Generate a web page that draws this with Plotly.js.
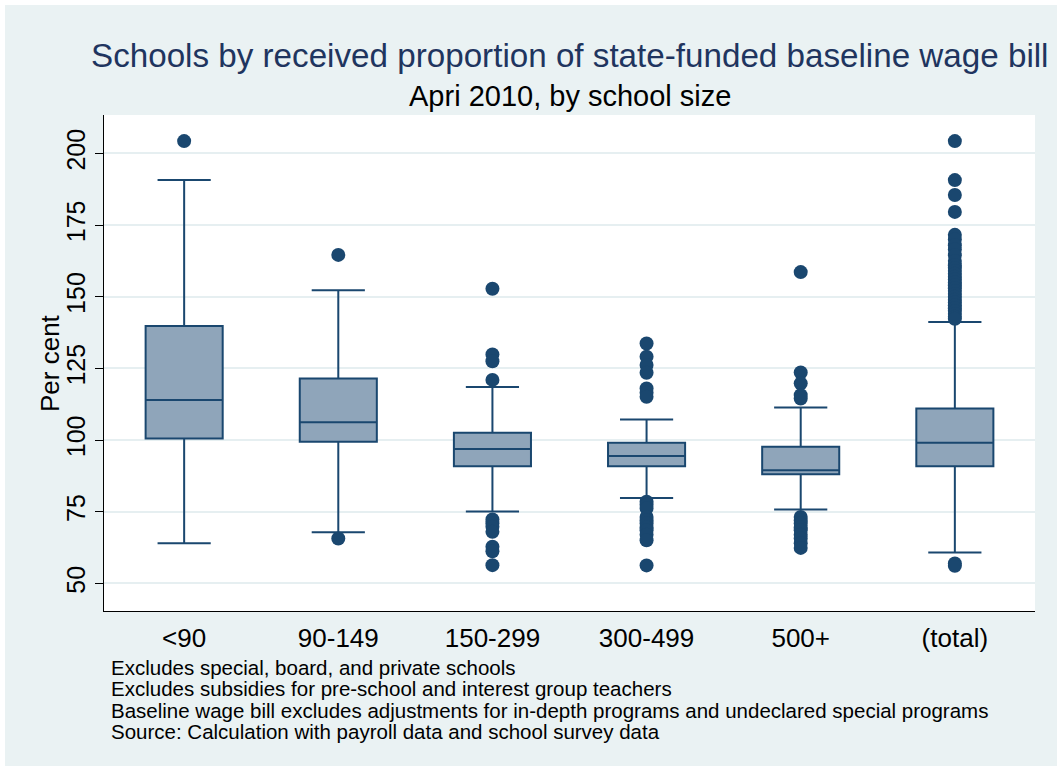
<!DOCTYPE html>
<html>
<head>
<meta charset="utf-8">
<script src="https://cdn.plot.ly/plotly-3.0.1.min.js"></script>
<style>
  html, body { margin: 0; padding: 0; background: #ffffff; }
  #chart { position: absolute; left: 5px; top: 5px; width: 1052px; height: 761px; }
</style>
</head>
<body>
<div id="chart"></div>
<script>
// ---- data ----
const categories = ["<90", "90-149", "150-299", "300-499", "500+", "(total)"];
const q1Values     = [100.6,  99.4, 90.9, 90.9, 88.1,  90.9];
const medianValues = [114.0, 106.2, 96.9, 94.5, 89.5,  99.1];
const q3Values     = [139.8, 121.5, 102.6, 99.1, 97.7, 111.0];
const lowerWhisker = [64.0,  67.9, 75.1, 79.8, 75.8,  60.8];
const upperWhisker = [190.7, 152.3, 118.5, 107.2, 111.4, 141.2];

const outliersLt90   = [204.3];
const outliers90_149 = [164.6, 65.7];
const outliers150_299 = [152.8, 129.9, 127.5, 121.0, 72.3, 71.0, 69.8, 68.0, 62.8, 61.2, 56.4];
const outliers300_499 = [133.7, 129.1, 126.2, 123.5, 118.0, 116.5, 115.1,
                         78.5, 77.5, 76.2, 73.2, 72.0, 70.9, 69.5, 68.6, 67.0, 65.1, 56.3];
const outliers500plus = [158.6, 123.6, 119.8, 115.7, 114.5,
                         73.2, 72.0, 70.9, 69.5, 68.6, 67.0, 65.7, 64.0, 62.4];
const outliersTotal   = [204.3, 190.7, 185.5, 179.6, 171.6, 170.0, 168.0, 166.5, 164.5, 162.5,
                         161.0, 160.0, 159.0, 158.0, 157.0, 156.0, 155.0, 154.0, 153.0, 152.0,
                         151.0, 150.0, 149.0, 148.0, 147.0, 146.0, 145.0, 144.0, 143.0, 142.3,
                         57.0, 56.2];
const outlierGroups = [outliersLt90, outliers90_149, outliers150_299, outliers300_499, outliers500plus, outliersTotal];

const yTickVals = [50, 75, 100, 125, 150, 175, 200];

const titleText = "Schools by received proportion of state-funded baseline wage bill";
const subtitleText = "Apri 2010, by school size";
const yTitleText = "Per cent";
const notes = [
  "Excludes special, board, and private schools",
  "Excludes subsidies for pre-school and interest group teachers",
  "Baseline wage bill excludes adjustments for in-depth programs and undeclared special programs",
  "Source: Calculation with payroll data and school survey data"
];

// ---- build ----
const navy = "#1a476f";
const FONT = "Liberation Sans, Arial, Helvetica, sans-serif";

const outX = [], outY = [];
outlierGroups.forEach((g, i) => g.forEach(v => { outX.push(categories[i]); outY.push(v); }));

const boxTrace = {
  type: "box",
  x: categories,
  q1: q1Values,
  median: medianValues,
  q3: q3Values,
  lowerfence: lowerWhisker,
  upperfence: upperWhisker,
  boxpoints: false,
  width: 0.5,
  whiskerwidth: 0.69,
  fillcolor: "#8fa5ba",
  line: { color: navy, width: 2 },
  hoverinfo: "skip",
  showlegend: false
};

const outTrace = {
  type: "scatter",
  mode: "markers",
  x: outX,
  y: outY,
  marker: { color: navy, size: 14 },
  hoverinfo: "skip",
  showlegend: false
};

const plotW = 931, plotH = 496; // plot area size in px
function px2paperX(px) { return (px - 99) / plotW; }
function px2paperY(py) { return (606 - py) / plotH; }

const annotations = [
  {
    text: titleText, xref: "paper", yref: "paper",
    x: 0.5, y: px2paperY(50), xanchor: "center", yanchor: "middle",
    showarrow: false, font: { family: FONT, size: 33.2, color: "#1f355f" }
  },
  {
    text: subtitleText, xref: "paper", yref: "paper",
    x: 0.5, y: px2paperY(91), xanchor: "center", yanchor: "middle",
    showarrow: false, font: { family: FONT, size: 29, color: "#000000" }
  },
  {
    text: yTitleText, xref: "paper", yref: "paper",
    x: px2paperX(45), y: 0.5, xanchor: "center", yanchor: "middle", textangle: -90,
    showarrow: false, font: { family: FONT, size: 26, color: "#000000" }
  }
];
notes.forEach((t, i) => {
  annotations.push({
    text: t, xref: "paper", yref: "paper",
    x: px2paperX(104), y: px2paperY(662 + i * 21.6),
    xanchor: "left", yanchor: "middle",
    showarrow: false, font: { family: FONT, size: 20.5, color: "#000000" }
  });
});

const layout = {
  width: 1052, height: 761,
  margin: { l: 99, r: 22, t: 110, b: 155, pad: 0 },
  paper_bgcolor: "#eaf2f3",
  plot_bgcolor: "#ffffff",
  font: { family: FONT, color: "#000000" },
  showlegend: false,
  xaxis: {
    type: "category",
    range: [-0.52, 5.52],
    showline: true, linecolor: "#000000", linewidth: 1,
    ticks: "", showgrid: false, zeroline: false,
    tickfont: { family: FONT, size: 26, color: "#000000" },
    ticklabelstandoff: 4
  },
  yaxis: {
    range: [40.4, 213.4],
    tickmode: "array", tickvals: yTickVals,
    showgrid: true, gridcolor: "#e6eff1", gridwidth: 2,
    showline: true, linecolor: "#000000", linewidth: 1,
    ticks: "outside", ticklen: 8, tickcolor: "#000000", tickwidth: 1,
    tickangle: -90,
    zeroline: false,
    tickfont: { family: FONT, size: 25, color: "#000000" }
  },
  annotations: annotations
};

Plotly.newPlot("chart", [boxTrace, outTrace], layout, { displayModeBar: false, staticPlot: true });
</script>
</body>
</html>
